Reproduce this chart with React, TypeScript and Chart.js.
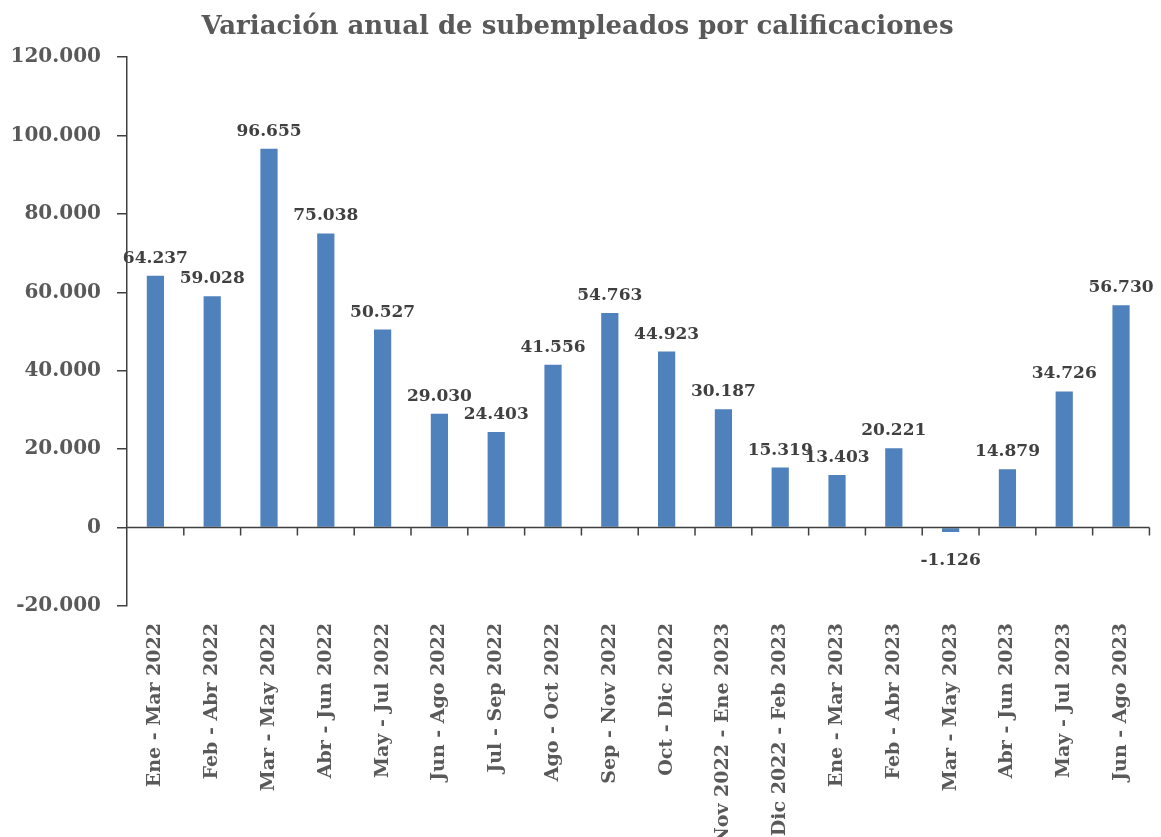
import React, { useEffect, useRef } from "react";
import { Chart, registerables } from "chart.js";

Chart.register(...registerables);

const TITLE = "Variación anual de subempleados por calificaciones";

const categories: string[] = [
  "Ene - Mar 2022",
  "Feb - Abr 2022",
  "Mar - May 2022",
  "Abr - Jun 2022",
  "May - Jul 2022",
  "Jun - Ago 2022",
  "Jul - Sep 2022",
  "Ago - Oct 2022",
  "Sep - Nov 2022",
  "Oct - Dic 2022",
  "Nov 2022 - Ene 2023",
  "Dic 2022 - Feb 2023",
  "Ene - Mar 2023",
  "Feb - Abr 2023",
  "Mar - May 2023",
  "Abr - Jun 2023",
  "May - Jul 2023",
  "Jun - Ago 2023",
];

const variation: number[] = [
  64237, 59028, 96655, 75038, 50527, 29030, 24403, 41556, 54763, 44923, 30187,
  15319, 13403, 20221, -1126, 14879, 34726, 56730,
];

const yMin = -20000;
const yMax = 120000;
const yStep = 20000;

const FONT = "'DejaVu Serif', serif";
const BAR_COLOR = "#4F81BD";
const AXIS_COLOR = "#404040";
const TEXT_GRAY = "#595959";
const LABEL_DARK = "#404040";

function fmt(v: number): string {
  const s = Math.round(Math.abs(v))
    .toString()
    .replace(/\B(?=(\d{3})+(?!\d))/g, ".");
  return (v < 0 ? "-" : "") + s;
}

const zeroAxisPlugin = {
  id: "zeroAxis",
  afterDatasetsDraw(chart: any) {
    const { ctx, chartArea, scales } = chart;
    const xs = scales.x;
    const ys = scales.y;
    const y0 = ys.getPixelForValue(0);
    const n = categories.length;
    ctx.save();
    ctx.strokeStyle = AXIS_COLOR;
    ctx.lineWidth = 1.5;
    ctx.beginPath();
    ctx.moveTo(chartArea.left, y0);
    ctx.lineTo(chartArea.right, y0);
    const half = (xs.getPixelForValue(1) - xs.getPixelForValue(0)) / 2;
    for (let i = 1; i <= n; i++) {
      const x =
        i < n ? xs.getPixelForValue(i) - half : xs.getPixelForValue(n - 1) + half;
      ctx.moveTo(x, y0);
      ctx.lineTo(x, y0 + 8);
    }
    ctx.stroke();
    ctx.restore();
  },
};

const dataLabelPlugin = {
  id: "dataLabels",
  afterDatasetsDraw(chart: any) {
    const { ctx } = chart;
    const meta = chart.getDatasetMeta(0);
    ctx.save();
    ctx.font = `bold 17px ${FONT}`;
    ctx.fillStyle = LABEL_DARK;
    ctx.textAlign = "center";
    ctx.textBaseline = "alphabetic";
    meta.data.forEach((bar: any, i: number) => {
      const v = variation[i];
      const y = v >= 0 ? bar.y - 13 : bar.y + 33;
      ctx.fillText(fmt(v), bar.x, y);
    });
    ctx.restore();
  },
};

export default function App() {
  const canvasRef = useRef<HTMLCanvasElement | null>(null);

  useEffect(() => {
    document.body.style.margin = "0";
    const canvas = canvasRef.current;
    if (!canvas) return;
    const chart = new Chart(canvas, {
      type: "bar",
      data: {
        labels: categories,
        datasets: [
          {
            data: variation,
            backgroundColor: BAR_COLOR,
            borderWidth: 0,
            categoryPercentage: 1,
            barPercentage: 0.303,
          },
        ],
      },
      options: {
        animation: false,
        responsive: false,
        devicePixelRatio: 1,
        layout: { padding: { left: 0, right: 6, top: 0, bottom: 0 } },
        plugins: {
          legend: { display: false },
          tooltip: { enabled: false },
          title: {
            display: true,
            text: TITLE,
            color: TEXT_GRAY,
            font: { family: FONT, size: 26, weight: "bold", lineHeight: 1.2 },
            padding: { top: 12, bottom: 14 },
          },
        },
        scales: {
          x: {
            grid: { display: false, drawTicks: false },
            border: { display: false },
            ticks: {
              autoSkip: false,
              minRotation: 90,
              maxRotation: 90,
              padding: 17,
              color: TEXT_GRAY,
              font: { family: FONT, size: 19, weight: "bold" },
            },
            afterFit(scale: any) {
              scale.height = 231;
            },
          },
          y: {
            min: yMin,
            max: yMax,
            grid: {
              drawOnChartArea: false,
              drawTicks: true,
              tickLength: 10,
              color: AXIS_COLOR,
              lineWidth: 1.5,
            },
            border: { display: true, color: AXIS_COLOR, width: 1.5 },
            ticks: {
              stepSize: yStep,
              padding: 16,
              color: TEXT_GRAY,
              font: { family: FONT, size: 20, weight: "bold" },
              callback: (v: any) => fmt(Number(v)),
            },
            afterFit(scale: any) {
              scale.width = 127;
            },
          },
        },
      },
      plugins: [zeroAxisPlugin, dataLabelPlugin],
    });
    return () => chart.destroy();
  }, []);

  return (
    <div style={{ width: 1161, height: 837 }}>
      <canvas ref={canvasRef} width={1161} height={837} />
    </div>
  );
}
